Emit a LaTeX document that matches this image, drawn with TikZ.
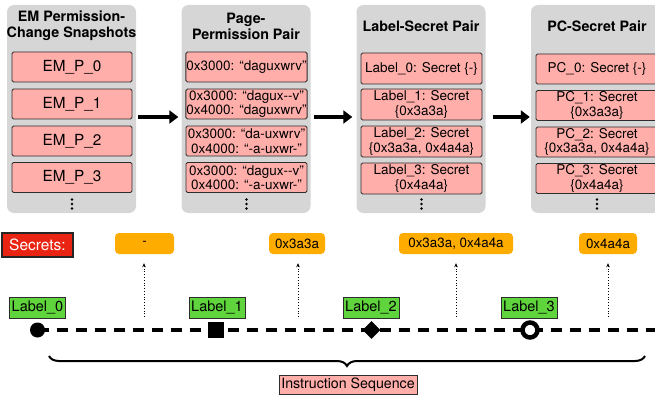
\documentclass[tikz,border=0pt]{standalone}
\usepackage{fontspec}
\setmainfont{TeX Gyre Heros}
\usetikzlibrary{arrows.meta,decorations.pathreplacing,shapes.geometric}
\definecolor{panelgray}{RGB}{214,214,214}
\definecolor{pinkbox}{RGB}{255,174,170}
\definecolor{orangebox}{RGB}{255,172,0}
\definecolor{greenbox}{RGB}{95,212,60}
\definecolor{redbox}{RGB}{233,36,18}
\definecolor{edgegray}{RGB}{45,45,45}
\begin{document}
\begin{tikzpicture}[x=1pt,y=-1pt,
  panel/.style={fill=panelgray, rounded corners=7pt, minimum width=129pt, minimum height=208pt, inner sep=0pt},
  title/.style={font=\fontsize{14.3}{16}\selectfont\bfseries, align=center, inner sep=0pt},
  item/.style={draw=edgegray, line width=0.9pt, fill=pinkbox, rounded corners=1.5pt, minimum height=30pt, inner xsep=0.5pt, inner ysep=0pt, align=center, font=\fontsize{13.5}{14.5}\selectfont},
  emitem/.style={item, minimum width=120pt, font=\fontsize{15.3}{16}\selectfont},
  ppitem/.style={item, minimum width=121pt},
  lsitem/.style={item, minimum width=121pt, minimum height=31pt},
  pcitem/.style={item, minimum width=122pt},
  bigarrow/.style={line width=4pt, -{Triangle[length=9pt,width=13pt]}},
  secret/.style={fill=orangebox, rounded corners=4pt, minimum height=21pt, inner sep=0pt, font=\fontsize{13.4}{14}\selectfont},
  lbl/.style={draw=edgegray, line width=1pt, fill=greenbox, minimum height=21pt, minimum width=56pt, inner sep=0pt, font=\fontsize{14.5}{15}\selectfont},
  uparrow/.style={dotted, line width=0.8pt, -{Stealth[length=4pt,width=3.5pt]}},
  dotdot/.style={fill=black}
]
\useasboundingbox (0,0) rectangle (655,401);

% panels
\node[panel] (p1) at (71.5,109) {};
\node[panel] (p2) at (246,109) {};
\node[panel] (p3) at (421,109) {};
\node[panel] (p4) at (595.5,109) {};

\node[title] (t1) at (71.5,26) {EM Permission-\\Change Snapshots};
\node[title] (t2) at (246,26) {Page-\\Permission Pair};
\node[title] (t3) at (421,26) {Label-Secret Pair};
\node[title] (t4) at (597,26) {PC-Secret Pair};

% panel 1
\node[emitem] (e0) at (72,67) {EM\_P\_0};
\node[emitem] (e1) at (72,104) {EM\_P\_1};
\node[emitem] (e2) at (72,141) {EM\_P\_2};
\node[emitem] (e3) at (72,177.5) {EM\_P\_3};
% panel 2
\node[ppitem] (q0) at (246.5,67) {0x3000: “daguxwrv”};
\node[ppitem] (q1) at (246.5,104) {0x3000: “dagux-{}-v”\\0x4000: “daguxwrv”};
\node[ppitem] (q2) at (246.5,141) {0x3000: “da-uxwrv”\\0x4000: “-a-uxwr-”};
\node[ppitem] (q3) at (246.5,177.5) {0x3000: “dagux-{}-v”\\0x4000: “-a-uxwr-”};
% panel 3
\node[lsitem] (l0) at (421.5,68.5) {Label\_0: Secret \{-\}};
\node[lsitem] (l1) at (421.5,104.5) {Label\_1: Secret\\\{0x3a3a\}};
\node[lsitem] (l2) at (421.5,141.5) {Label\_2: Secret\\\{0x3a3a, 0x4a4a\}};
\node[lsitem] (l3) at (421.5,178.5) {Label\_3: Secret\\\{0x4a4a\}};
% panel 4
\node[pcitem] (c0) at (597,69) {PC\_0: Secret \{-\}};
\node[pcitem] (c1) at (597,105.5) {PC\_1: Secret\\\{0x3a3a\}};
\node[pcitem] (c2) at (597,142) {PC\_2: Secret\\\{0x3a3a, 0x4a4a\}};
\node[pcitem] (c3) at (597,178.5) {PC\_3: Secret\\\{0x4a4a\}};

% vertical dots
\foreach \x in {72,246.5,421.5,597}{
  \foreach \y in {199.5,204,208.5}{
    \fill[dotdot] (\x,\y) circle (1.4);
  }
}

% arrows between panels
\draw[bigarrow] ([xshift=2pt,yshift=-8pt]p1.east) -- ([xshift=-3pt,yshift=-8pt]p2.west);
\draw[bigarrow] ([xshift=3pt,yshift=-8pt]p2.east) -- ([xshift=-4pt,yshift=-8pt]p3.west);
\draw[bigarrow] ([xshift=7pt,yshift=-8pt]p3.east) -- ([xshift=-1pt,yshift=-8pt]p4.west);

% secrets row
\node[draw=black!85, line width=2pt, fill=redbox, text=white, minimum width=71pt, minimum height=24pt, inner sep=0pt, font=\fontsize{15.5}{16}\selectfont] (sec) at (37.5,245) {Secrets:};
\node[secret, minimum width=59pt] (s0) at (144.5,243.5) {-};
\node[secret, minimum width=56pt] (s1) at (297,243.5) {0x3a3a};
\node[secret, minimum width=114pt] (s2) at (456,243.5) {0x3a3a, 0x4a4a};
\node[secret, minimum width=58pt] (s3) at (608,243.5) {0x4a4a};

% dotted arrows
\coordinate (d0) at (144,317);
\coordinate (d1) at (298,317);
\coordinate (d2) at (456,317);
\coordinate (d3) at (608,317);
\draw[uparrow] (d0) -- ([yshift=-9pt]s0.south -| d0);
\draw[uparrow] (d1) -- ([yshift=-9pt]s1.south -| d1);
\draw[uparrow] (d2) -- ([yshift=-9pt]s2.south -| d2);
\draw[uparrow] (d3) -- ([yshift=-9pt]s3.south -| d3);

% labels
\node[lbl] (g0) at (37.5,307.5) {Label\_0};
\node[lbl] (g1) at (217,307.5) {Label\_1};
\node[lbl] (g2) at (371,307.5) {Label\_2};
\node[lbl] (g3) at (529,307.5) {Label\_3};

% dashed instruction line
\coordinate (lstart) at (37.5,330);
\coordinate (lend) at (662,330);
\draw[line width=4pt, dash pattern=on 11pt off 8pt] (lstart) -- (lend);

% markers
\node[circle, fill=black, minimum size=15pt, inner sep=0pt] (m0) at (37.5,330) {};
\node[rectangle, fill=black, minimum size=16pt, inner sep=0pt] (m1) at (216,330) {};
\node[diamond, fill=black, minimum size=18pt, inner sep=0pt] (m2) at (371.5,330) {};
\node[circle, draw=black, line width=4.5pt, fill=white, minimum size=15pt, inner sep=0pt] (m3) at (530,330) {};

% brace
\coordinate (b0) at (49,356);
\coordinate (b1) at (645,356);
\draw[decorate, decoration={brace, amplitude=10pt, mirror}, line width=2pt] (b0) -- (b1);

\node[draw=edgegray, line width=1pt, fill=pinkbox, minimum width=138pt, minimum height=19pt, inner sep=0pt, font=\fontsize{14.2}{15}\selectfont] (ins) at (348,384.5) {Instruction Sequence};
\end{tikzpicture}
\end{document}
